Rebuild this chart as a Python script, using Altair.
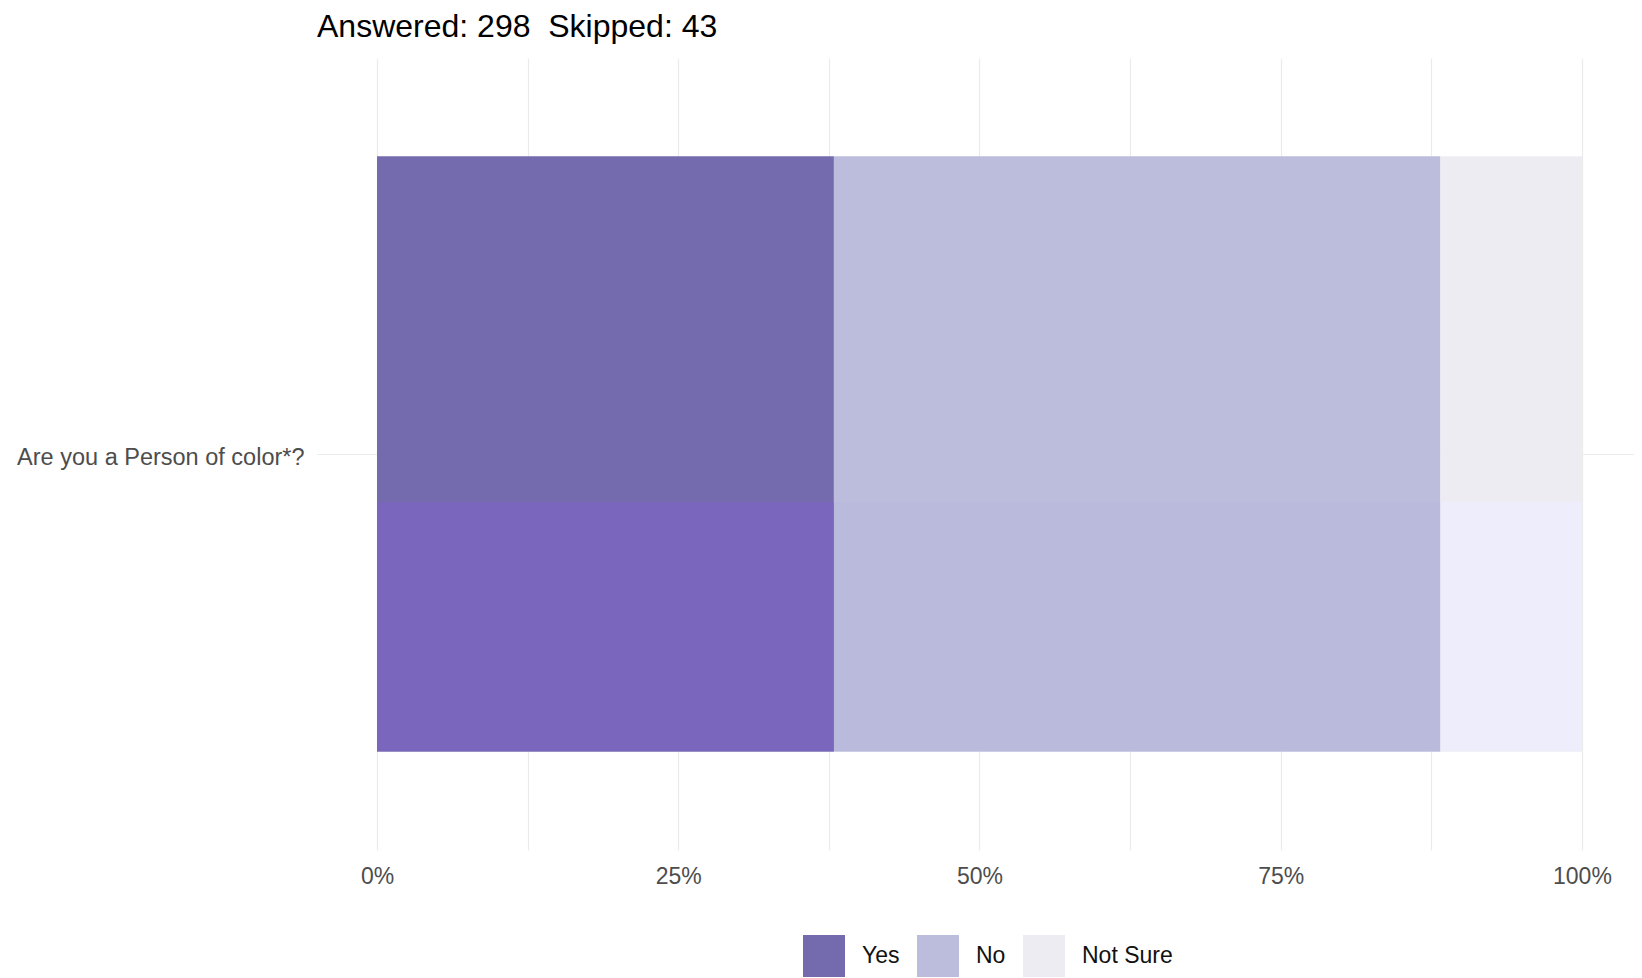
import altair as alt
import pandas as pd

# --- data ---
question = ["Are you a Person of color*?"]
answers = ["Yes", "No", "Not Sure"]
counts = [113, 150, 35]
stack_order = [0, 1, 2]
title_text = "Answered: 298\u00a0 Skipped: 43"
tick_values = [0, 0.125, 0.25, 0.375, 0.5, 0.625, 0.75, 0.875, 1]

colors_top = ["#746bae", "#bcbddc", "#edecf3"]
colors_bottom = ["#7a66bc", "#babbdc", "#eeedfb"]

df = pd.DataFrame({
    "question": question * len(answers),
    "answer": answers,
    "count": counts,
    "idx": stack_order,
})

FONT = "Liberation Sans"

x_enc = alt.X(
    "count:Q",
    stack="normalize",
    scale=alt.Scale(domain=[-0.0498, 1.0432], nice=False, zero=False),
    axis=alt.Axis(
        values=tick_values,
        labelExpr="datum.value % 0.25 == 0 ? format(datum.value, '.0%') : ''",
        title=None,
        ticks=False,
        domain=False,
        grid=True,
        gridColor="#ebebeb",
        gridWidth=1.2,
        labelFontSize=23,
        labelColor="#4d4d4d",
        labelFont=FONT,
        labelPadding=15,
        labelFlush=False,
        labelOverlap=False,
    ),
)

y_enc = alt.Y(
    "question:N",
    scale=alt.Scale(paddingInner=0, paddingOuter=0.165),
    axis=alt.Axis(
        title=None,
        ticks=False,
        domain=False,
        grid=True,
        gridColor="#ebebeb",
        gridWidth=1.2,
        bandPosition=0.5,
        labelFontSize=23.5,
        labelColor="#4d4d4d",
        labelFont=FONT,
        labelPadding=13,
        labelOffset=4,
        labelLimit=500,
    ),
)

order_enc = alt.Order("idx:Q", sort="ascending")

top = alt.Chart(df).mark_bar().encode(
    x=x_enc,
    y=y_enc,
    order=order_enc,
    color=alt.Color(
        "answer:N",
        scale=alt.Scale(domain=answers, range=colors_top),
        legend=alt.Legend(
            title=None,
            orient="none",
            direction="horizontal",
            legendX=486,
            legendY=877,
            symbolType="square",
            symbolSize=1764,
            symbolStrokeWidth=0,
            symbolOpacity=1,
            labelFontSize=23,
            labelFont=FONT,
            labelColor="#111111",
            labelOffset=17,
            columnPadding=17,
            padding=0,
        ),
    ),
)

bottom = alt.Chart(df).mark_bar(height=249, yOffset=172.5).encode(
    x=x_enc,
    y=y_enc,
    order=order_enc,
    color=alt.Color(
        "answer:N",
        scale=alt.Scale(domain=answers, range=colors_bottom),
        legend=None,
    ),
)

chart = (
    alt.layer(top, bottom)
    .resolve_scale(color="independent")
    .properties(
        width=1317,
        height=792,
        padding={"left": 309, "top": 50, "right": 0, "bottom": 127},
        autosize=alt.AutoSizeParams(type="none"),
        background="white",
        title=alt.TitleParams(
            text=title_text,
            anchor="start",
            frame="group",
            baseline="alphabetic",
            offset=20,
            dy=31,
            fontSize=32,
            font=FONT,
            fontWeight="normal",
            color="#000000",
        ),
    )
    .configure_view(stroke=None)
)

chart.save("out.html", embed_options={"renderer": "svg", "actions": False})
